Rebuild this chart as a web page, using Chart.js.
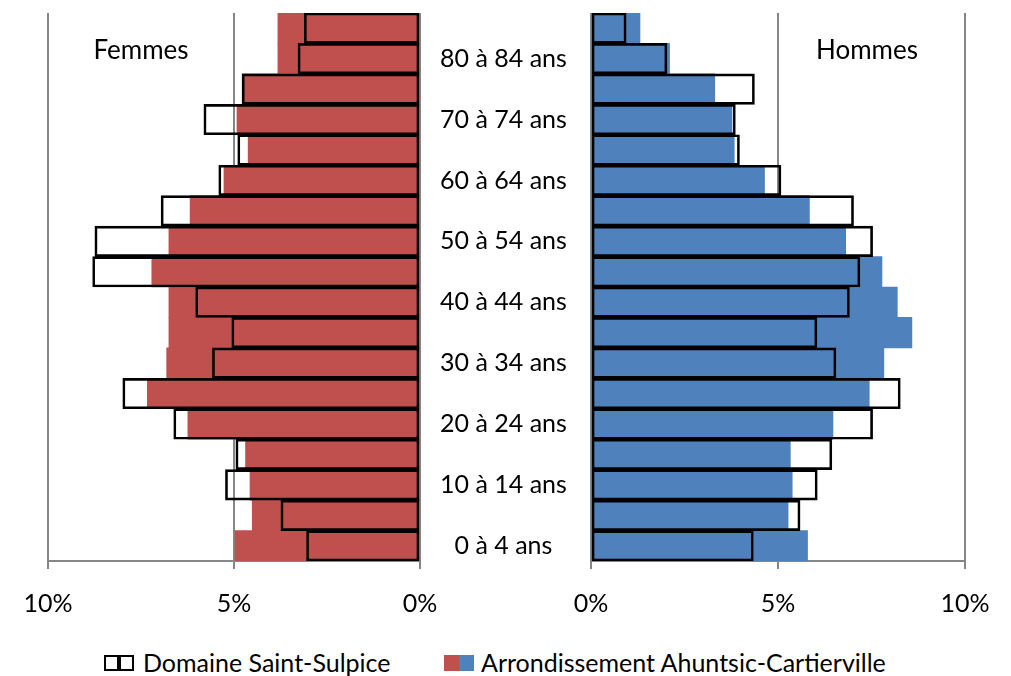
<!DOCTYPE html>
<html>
<head>
<meta charset="utf-8">
<script src="https://cdn.jsdelivr.net/npm/chart.js@4"></script>
<style>
body{margin:0;background:#fff;}
#wrap{position:relative;width:1011px;height:676px;overflow:hidden;font-family:Lato,sans-serif;color:#000;background:#fff}
canvas{position:absolute;top:0}
.side{position:absolute;top:34px;width:140px;text-align:center;font-size:26px;line-height:31px}
.leg{position:absolute;top:647px;font-size:25px;line-height:30px;white-space:nowrap}
.box{position:absolute;top:655px;width:15px;height:16px;box-sizing:border-box}
</style>
</head>
<body>
<div id="wrap">
  <canvas id="femmes" width="592" height="640" style="left:0"></canvas>
  <canvas id="hommes" width="451" height="640" style="left:560px"></canvas>
  <div class="side" style="left:71px">Femmes</div>
  <div class="side" style="left:797px">Hommes</div>
  <div class="box" style="left:104px;border:2px solid #000;background:#fff"></div>
  <div class="box" style="left:119px;border:2px solid #000;background:#fff"></div>
  <div class="leg" id="leg1" style="left:143px"></div>
  <div class="box" style="left:444px;background:#C0504D"></div>
  <div class="box" style="left:459px;background:#4F81BD"></div>
  <div class="leg" id="leg2" style="left:481px"></div>
</div>
<script>
const ages = ['0 à 4 ans','5 à 9 ans','10 à 14 ans','15 à 19 ans','20 à 24 ans','25 à 29 ans',
  '30 à 34 ans','35 à 39 ans','40 à 44 ans','45 à 49 ans','50 à 54 ans','55 à 59 ans',
  '60 à 64 ans','65 à 69 ans','70 à 74 ans','75 à 79 ans','80 à 84 ans','85 ans et plus']
const seriesNames = ['Domaine Saint-Sulpice','Arrondissement Ahuntsic-Cartierville']

// % de la population, du plus jeune au plus vieux
const stSulpiceFemmes = [3.05,3.74,5.23,4.95,6.62,7.99,5.58,5.06,6.03,8.80,8.74,6.96,5.41,4.90,5.81,4.78,3.28,3.11]
const ahuntsicFemmes  = [4.97,4.51,4.57,4.69,6.24,7.33,6.81,6.75,6.75,7.21,6.75,6.18,5.27,4.62,4.92,4.78,3.82,3.82]
const stSulpiceHommes = [4.34,5.59,6.05,6.44,7.53,8.27,6.55,6.04,6.91,7.19,7.53,7.02,5.08,3.97,3.86,4.37,2.03,0.94]
const ahuntsicHommes  = [5.79,5.27,5.38,5.33,6.47,7.44,7.83,8.58,8.19,7.78,6.81,5.84,4.64,3.83,3.77,3.31,2.10,1.31]

const xTicks = [0,5,10]

document.getElementById('leg1').textContent = seriesNames[0]
document.getElementById('leg2').textContent = seriesNames[1]

const gridGray = '#868686'
const font = 'Lato'

function makeDatasets(outline, filled, color){
    return [{
        label: seriesNames[0],
        data: outline,
        backgroundColor: 'rgba(0,0,0,0)',
        borderColor: '#000',
        borderWidth: 2,
        borderSkipped: false,
        grouped: false,
        order: 0,
        barPercentage: 1,
        categoryPercentage: 1
    },{
        label: seriesNames[1],
        data: filled,
        backgroundColor: color,
        borderWidth: 0,
        grouped: false,
        order: 1,
        barPercentage: 1,
        categoryPercentage: 1
    }]
}

function xAxis(reverse){
    return {
        type: 'linear',
        reverse: reverse,
        min: 0,
        max: 10,
        afterBuildTicks: function(scale){ scale.ticks = xTicks.map(v => ({value: v})) },
        ticks: {
            color: '#000',
            font: {family: font, size: 25},
            padding: 20,
            maxRotation: 0,
            callback: v => v + '%'
        },
        grid: {color: gridGray, lineWidth: 2, tickLength: 8, tickColor: gridGray},
        border: {display: true, color: gridGray, width: 2},
        afterFit: function(scale){
            scale.height = 79
            scale.paddingLeft = 0
            scale.paddingRight = 0
        }
    }
}

new Chart(document.getElementById('femmes'), {
    type: 'bar',
    data: {labels: ages, datasets: makeDatasets(stSulpiceFemmes, ahuntsicFemmes, '#C0504D')},
    options: {
        indexAxis: 'y',
        responsive: false,
        animation: false,
        layout: {padding: {top: 13, left: 48, right: 0, bottom: 0}},
        plugins: {legend: {display: false}, tooltip: {enabled: false}},
        scales: {
            x: xAxis(true),
            y: {
                type: 'category',
                position: 'right',
                reverse: true,
                grid: {display: false, drawTicks: false},
                border: {display: false},
                ticks: {
                    autoSkip: false,
                    crossAlign: 'center',
                    padding: 20,
                    color: '#000',
                    font: {family: font, size: 25},
                    callback: function(v, i){ return i % 2 === 0 ? this.getLabelForValue(v) : '' }
                },
                afterFit: function(scale){
                    scale.width = 172
                    scale.paddingTop = 0
                    scale.paddingBottom = 0
                }
            }
        }
    }
})

new Chart(document.getElementById('hommes'), {
    type: 'bar',
    data: {labels: ages, datasets: makeDatasets(stSulpiceHommes, ahuntsicHommes, '#4F81BD')},
    options: {
        indexAxis: 'y',
        responsive: false,
        animation: false,
        layout: {padding: {top: 13, left: 31, right: 46, bottom: 0}},
        plugins: {legend: {display: false}, tooltip: {enabled: false}},
        scales: {
            x: xAxis(false),
            y: {type: 'category', reverse: true, display: false}
        }
    }
})
</script>
</body>
</html>
